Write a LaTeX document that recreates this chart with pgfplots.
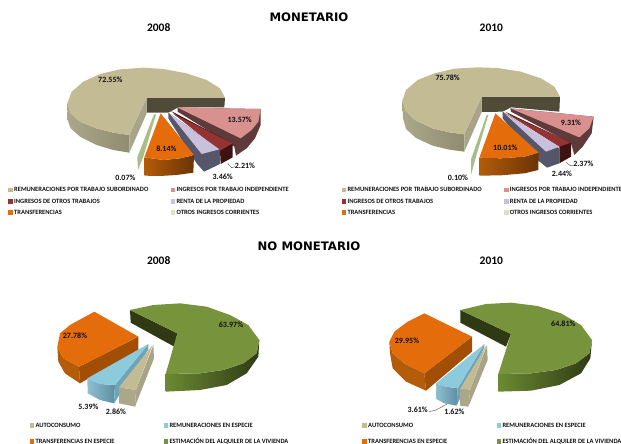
\documentclass[border=0pt]{standalone}
\usepackage{fontspec}
\setmainfont{Carlito}
\newfontfamily\wide{DejaVu Sans}
\usepackage{pgfplots}
\pgfplotsset{compat=1.18}
\definecolor{tan}{HTML}{C2BB94}
\definecolor{tanA}{HTML}{ABA789}
\definecolor{tanB}{HTML}{8F8C72}
\definecolor{tanR}{HTML}{A9A488}
\definecolor{wall}{HTML}{4F4B38}
\definecolor{pink}{HTML}{D99190}
\definecolor{pinkS}{HTML}{5F3A3B}
\definecolor{red}{HTML}{953232}
\definecolor{redS}{HTML}{3F1212}
\definecolor{lil}{HTML}{C9C0DB}
\definecolor{lilS}{HTML}{56566A}
\definecolor{org}{HTML}{E46C0A}
\definecolor{orgR}{HTML}{A34E05}
\definecolor{orgA}{HTML}{B35C0A}
\definecolor{orgB}{HTML}{6A3405}
\definecolor{thin}{HTML}{A9BC8A}
\definecolor{oli}{HTML}{77933C}
\definecolor{oliW}{HTML}{2F3A15}
\definecolor{oliA}{HTML}{6B8A32}
\definecolor{blu}{HTML}{8CCBDC}
\definecolor{bluA}{HTML}{8FC0D0}
\definecolor{bluB}{HTML}{5D8DA2}
\definecolor{bluR}{HTML}{6FA3B8}
\definecolor{lg}{HTML}{D7E4BD}
\definecolor{txt}{HTML}{101010}
\newcommand\Pg[2]{\addplot[fill=#1,draw=none,forget plot] coordinates {#2};}
\newcommand\Sh[3]{\addplot[left color=#1,right color=#2,draw=none,forget plot] coordinates {#3};}
\newcommand\Ln[1]{\addplot[draw=black!70,line width=0.4pt,forget plot] coordinates {#1};}
\newcommand\Lab[3]{\node[font=\bfseries\fontsize{8}{9}\selectfont,text=txt,inner sep=0pt] at (axis cs:#1,#2) {#3};}
\newcommand\Tit[3]{\node[font=\bfseries\fontsize{11.5}{13}\selectfont,text=black,inner sep=0pt] at (axis cs:#1,#2) {#3};}
\newcommand\Leg[4]{\addplot[only marks,mark=square*,mark size=1.7pt,color=#4,forget plot] coordinates {(#1,#2)};
 \node[font=\bfseries\fontsize{6.5}{7}\selectfont,text=txt,anchor=west,inner sep=0pt] at (axis cs:#1+11,#2) {#3};}
\pgfplotsset{panel/.style={scale only axis,width=310pt,axis lines=none,xmin=0,xmax=930,ymin=0,y dir=reverse,clip=false,anchor=north west}}
\begin{document}
\begin{tikzpicture}[x=1pt,y=1pt]
\useasboundingbox (0,0) rectangle (621,-444);
\clip (0,0) rectangle (621,-444);
% ---------- MONETARIO 2008
\begin{axis}[panel,height=225pt,ymax=675,at={(0pt,0pt)}]
\Pg{wall}{(440,293)(675,293)(673,322)(535,322)(505,338)(440,338)}
\Sh{tanA}{tanB}{(202,310)(212,340)(240,365)(290,385)(340,398)(388,405)(388,458)(340,450)(290,435)(240,410)(212,385)(203,360)}
\Pg{tanR}{(388,405)(440,293)(440,340)(388,458)}
\Pg{tan}{(440,293)(675,293)(660,265)(620,240)(560,220)(490,207)(430,203)(360,208)(300,222)(250,245)(215,275)(202,310)(212,340)(240,365)(290,385)(340,398)(388,405)}
\Pg{pinkS}{(533,323)(782,327)(782,375)(765,415)(740,445)(708,467)(703,440)(533,335)}
\Pg{pink}{(533,323)(782,327)(775,365)(755,390)(722,415)}
\Pg{redS}{(513,333)(698,430)(698,472)(662,492)(660,452)}
\Pg{red}{(518,340)(698,430)(660,452)}
\Pg{lilS}{(505,338)(660,448)(660,492)(612,515)(590,490)(505,355)}
\Pg{lil}{(508,340)(658,448)(605,462)}
\Sh{orgA}{orgB}{(433,472)(490,480)(540,475)(582,465)(580,518)(530,525)(480,528)(433,527)}
\Pg{org}{(482,340)(582,465)(540,475)(490,480)(433,472)}
\Pg{thin}{(462,343)(468,343)(430,470)(414,510)(412,472)}
\Ln{(683,490)(695,503)(705,500)}
\Lab{331}{238}{72.55\%}\Lab{719}{358}{13.57\%}\Lab{499}{445}{8.14\%}
\Lab{735}{497}{2.21\%}\Lab{668}{530}{3.46\%}\Lab{376}{532}{0.07\%}
\Tit{476}{84}{2008}
\Leg{31}{569}{REMUNERACIONES POR TRABAJO SUBORDINADO}{tan}
\Leg{518}{569}{INGRESOS POR TRABAJO INDEPENDIENTE}{pink}
\Leg{31}{604}{INGRESOS DE OTROS TRABAJOS}{red}
\Leg{518}{604}{RENTA DE LA PROPIEDAD}{lil}
\Leg{31}{637}{TRANSFERENCIAS}{org}
\Leg{518}{637}{OTROS INGRESOS CORRIENTES}{lg}
\end{axis}
% ---------- MONETARIO 2010
\begin{axis}[panel,height=225pt,ymax=675,at={(311pt,0pt)}]
\Pg{wall}{(512,290)(747,290)(745,335)(600,322)(575,335)(512,336)}
\Sh{tanA}{tanB}{(274,302)(285,335)(315,362)(365,385)(415,397)(460,403)(460,455)(415,449)(365,437)(315,414)(285,387)(276,354)}
\Pg{tanR}{(460,403)(512,290)(512,336)(460,455)}
\Pg{tan}{(512,290)(747,290)(730,260)(690,235)(630,215)(560,204)(500,202)(430,206)(370,220)(320,240)(285,270)(274,302)(285,335)(315,362)(365,385)(415,397)(460,403)}
\Pg{pinkS}{(598,325)(848,350)(842,400)(815,440)(790,465)(780,430)(600,335)}
\Pg{pink}{(598,325)(848,350)(835,385)(805,412)}
\Pg{redS}{(582,335)(780,428)(780,470)(745,490)(745,440)}
\Pg{red}{(586,340)(780,428)(745,440)}
\Pg{lilS}{(575,335)(745,445)(745,490)(708,503)(680,480)(575,355)}
\Pg{lil}{(580,340)(745,440)(705,455)}
\Sh{orgA}{orgB}{(505,473)(570,475)(640,470)(683,458)(682,510)(640,520)(570,526)(505,527)}
\Pg{org}{(553,340)(683,458)(640,470)(570,475)(505,473)}
\Pg{thin}{(527,345)(532,345)(495,470)(480,525)(480,478)}
\Ln{(765,487)(778,497)(788,495)}
\Lab{410}{232}{75.78\%}\Lab{780}{367}{9.31\%}\Lab{583}{442}{10.01\%}
\Lab{817}{492}{2.37\%}\Lab{753}{520}{2.44\%}\Lab{441}{533}{0.10\%}
\Tit{541}{84}{2010}
\Leg{98}{569}{REMUNERACIONES POR TRABAJO SUBORDINADO}{tan}
\Leg{585}{569}{INGRESOS POR TRABAJO INDEPENDIENTE}{pink}
\Leg{98}{603}{INGRESOS DE OTROS TRABAJOS}{red}
\Leg{585}{603}{RENTA DE LA PROPIEDAD}{lil}
\Leg{98}{636}{TRANSFERENCIAS}{org}
\Leg{585}{636}{OTROS INGRESOS CORRIENTES}{lg}
\end{axis}
% ---------- NO MONETARIO 2008
\begin{axis}[panel,height=214pt,ymax=642,at={(0pt,-230pt)}]
\Pg{oliW}{(390,240)(532,310)(523,350)(392,278)}
\Sh{oliA}{oliW}{(497,432)(600,430)(670,420)(730,400)(770,370)(778,330)(775,380)(740,430)(680,465)(600,480)(497,485)}
\Pg{oli}{(390,240)(460,225)(540,220)(620,230)(690,255)(745,285)(778,330)(770,370)(730,400)(670,420)(600,430)(497,432)(532,310)}
\Pg{orgA}{(172,350)(190,385)(237,410)(240,460)(195,430)(175,395)}
\Pg{orgR}{(237,410)(415,320)(415,360)(240,460)}
\Pg{org}{(283,245)(415,320)(237,410)(190,385)(172,350)(180,310)(210,285)}
\Sh{bluA}{bluB}{(262,445)(300,462)(345,465)(342,520)(300,510)(263,490)}
\Pg{bluR}{(345,465)(445,342)(445,358)(342,520)}
\Pg{blu}{(445,342)(345,465)(300,462)(262,445)}
\Pg{tanA}{(357,472)(408,480)(405,530)(357,520)}
\Pg{tanR}{(408,480)(460,345)(462,385)(405,530)}
\Pg{tan}{(458,345)(408,480)(357,472)}
\Lab{693}{283}{63.97\%}\Lab{225}{317}{27.78\%}\Lab{265}{530}{5.39\%}\Lab{348}{544}{2.86\%}
\Tit{476}{91}{2008}
\Leg{95}{585}{AUTOCONSUMO}{tan}
\Leg{497}{585}{REMUNERACIONES EN ESPECIE}{blu}
\Leg{95}{634}{TRANSFERENCIAS EN ESPECIE}{org}
\Leg{497}{634}{ESTIMACIÓN DEL ALQUILER DE LA VIVIENDA}{oli}
\end{axis}
% ---------- NO MONETARIO 2010
\begin{axis}[panel,height=214pt,ymax=642,at={(311pt,-230pt)}]
\Pg{oliW}{(448,240)(600,312)(585,350)(448,278)}
\Sh{oliA}{oliW}{(562,432)(660,430)(735,420)(795,400)(835,370)(843,330)(838,385)(810,430)(745,465)(660,482)(562,485)}
\Pg{oli}{(448,240)(525,222)(600,218)(680,228)(750,250)(810,285)(843,330)(835,370)(795,400)(735,420)(660,430)(562,432)(600,312)}
\Pg{orgA}{(235,335)(245,370)(280,400)(340,430)(345,482)(285,455)(245,415)(237,370)}
\Pg{orgR}{(340,430)(483,320)(483,365)(345,482)}
\Pg{org}{(340,250)(483,320)(340,430)(280,400)(245,370)(235,335)(250,305)(290,275)}
\Sh{bluA}{bluB}{(375,460)(405,470)(440,475)(437,527)(400,520)(376,507)}
\Pg{bluR}{(440,475)(520,342)(520,352)(437,527)}
\Pg{blu}{(520,342)(440,475)(405,470)(375,460)}
\Pg{tanA}{(447,477)(478,478)(472,530)(447,527)}
\Pg{tanR}{(478,478)(528,345)(530,390)(472,530)}
\Pg{tan}{(527,345)(478,478)(447,477)}
\Ln{(355,545)(375,540)(408,522)}
\Lab{757}{280}{64.81\%}\Lab{288}{332}{29.95\%}\Lab{320}{538}{3.61\%}\Lab{430}{546}{1.62\%}
\Tit{541}{91}{2010}
\Leg{160}{585}{AUTOCONSUMO}{tan}
\Leg{563}{585}{REMUNERACIONES EN ESPECIE}{blu}
\Leg{160}{634}{TRANSFERENCIAS EN ESPECIE}{org}
\Leg{563}{634}{ESTIMACIÓN DEL ALQUILER DE LA VIVIENDA}{oli}
\end{axis}
\node[font=\wide\bfseries\fontsize{11.7}{14}\selectfont,inner sep=0pt] at (309,-17) {MONETARIO};
\node[font=\wide\bfseries\fontsize{11.7}{14}\selectfont,inner sep=0pt] at (309,-246) {NO MONETARIO};
\end{tikzpicture}
\end{document}
